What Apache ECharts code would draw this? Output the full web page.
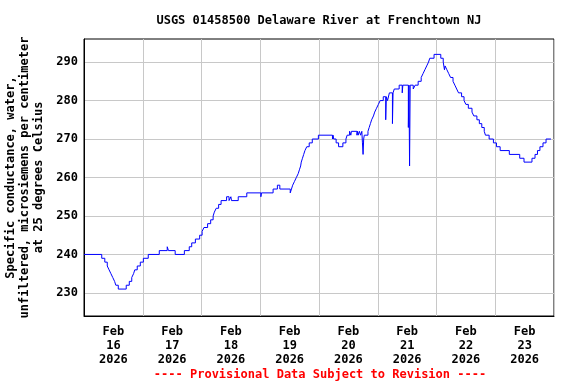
<!DOCTYPE html>
<html>
<head>
<meta charset="utf-8">
<script src="https://cdn.jsdelivr.net/npm/echarts@6/dist/echarts.min.js"></script>
<style>
html,body{margin:0;padding:0;background:#fff;}
#chart{width:576px;height:384px;}
</style>
</head>
<body>
<div id="chart"></div>
<script>
// Hours since 2026-02-16 00:00 and specific conductance values (step changes)
const hours = [0,7.25,8.5,9.5,10.25,11,11.75,12.5,13,14,17.25,18.5,19.5,20.25,20.75,21.75,23,24.25,26.25,30.75,34,34.5,37.25,41,43,44,45.5,47.25,48.25,49,50.5,51.75,52.75,53.25,54,55,56,58.25,59.25,60,60.25,63,66.5,72.25,72.5,77.25,79,80,84.25,84.75,85.25,86,86.75,87.5,88,88.5,88.75,89.25,89.75,90.25,91,92,93.25,95.75,101.5,101.75,102,103,104,105.75,107,107.5,108.5,109,109.25,111.5,111.75,112,112.5,113,113.5,113.75,114,114.25,114.5,116,116.5,117,117.5,118.25,118.75,119.5,120.25,121,122.25,123.25,123.5,124,124.75,126,126.25,126.75,128.75,130,130.25,132.5,132.75,133,133.25,134.5,135.25,136.5,137.75,138.5,139.25,140,140.75,141.25,143,145.75,146.75,147.25,147.5,148.25,149,149.75,150.75,151.5,152.25,153,154.25,155.25,156,157,158.5,159.25,160.5,161.5,162.5,163.5,164,165.5,167.25,168.5,170,173.75,178,179.75,183,184.25,185.25,186.25,187.5,188.75,190.75];
const conductance = [240,239,238,237,236,235,234,233,232,231,232,233,234,235,236,237,238,239,240,241,242,241,240,241,242,243,244,245,246,247,248,249,250,251,252,253,254,255,254,255,254,255,256,255,256,257,258,257,256,257,258,259,260,261,262,263,264,265,266,267,268,269,270,271,270,271,270,269,268,269,270,271,272,271,272,271,272,271,272,271,272,269,266,270,271,272,273,274,275,276,277,278,279,280,281,275,281,280,282,274,282,283,284,282,284,273,284,263,284,283,284,285,286,287,288,289,290,291,292,291,290,288,289,288,287,286,285,284,283,282,281,280,279,278,277,276,275,274,273,272,271,270,269,268,267,266,265,264,265,266,267,268,269,270,270];

const dayTicks = [12,36,60,84,108,132,156,180];
const dayMonths = ['Feb','Feb','Feb','Feb','Feb','Feb','Feb','Feb'];
const dayNums = ['16','17','18','19','20','21','22','23'];
const dayYears = ['2026','2026','2026','2026','2026','2026','2026','2026'];
const yTicks = [230,240,250,260,270,280,290];

const FONT = '"DejaVu Sans Mono", monospace';
const chart = echarts.init(document.getElementById('chart'), null, {renderer:'canvas'});
chart.setOption({
  animation:false,
  backgroundColor:'#fff',
  grid:{left:84,right:22,top:39,bottom:68,show:true,borderColor:'#000',borderWidth:1,backgroundColor:'transparent',containLabel:false,outerBoundsMode:'none'},
  xAxis:{
    type:'value',min:0,max:192,interval:24,
    axisLine:{show:true,lineStyle:{color:'#000',width:1}},
    axisTick:{show:false},
    splitLine:{show:true,lineStyle:{color:'#c8c8c8',width:1}},
    axisLabel:{
      customValues:dayTicks,
      formatter:function(v){const i=dayTicks.indexOf(v);return i<0?'':dayMonths[i]+'\n'+dayNums[i]+'\n'+dayYears[i];},
      fontFamily:FONT,fontWeight:'bold',fontSize:12,color:'#000',lineHeight:14,margin:9
    }
  },
  yAxis:{
    type:'value',min:224,max:296,
    axisLine:{show:true,lineStyle:{color:'#000',width:1}},
    axisTick:{show:false,customValues:yTicks},
    splitLine:{show:true,lineStyle:{color:'#c8c8c8',width:1}},
    axisLabel:{customValues:yTicks,fontFamily:FONT,fontWeight:'bold',fontSize:12,color:'#000',margin:6},
    name:'Specific conductance, water,\nunfiltered, microsiemens per centimeter\nat 25 degrees Celsius',
    nameLocation:'middle',nameGap:37,nameRotate:90,
    nameTextStyle:{fontFamily:FONT,fontWeight:'bold',fontSize:12,color:'#000',lineHeight:14}
  },
  graphic:[
    {type:'text',x:319,y:21,style:{text:'USGS 01458500 Delaware River at Frenchtown NJ',align:'center',verticalAlign:'middle',font:'bold 12px '+FONT,fill:'#000'}},
    {type:'text',x:320,y:375,style:{text:'---- Provisional Data Subject to Revision ----',align:'center',verticalAlign:'middle',font:'bold 12px '+FONT,fill:'#ff0000'}}
  ],
  series:[{
    type:'line',step:'end',showSymbol:false,symbol:'none',
    lineStyle:{color:'#0000ff',width:1},
    data:hours.map(function(h,i){return [h,conductance[i]];})
  }]
});
</script>
</body>
</html>
